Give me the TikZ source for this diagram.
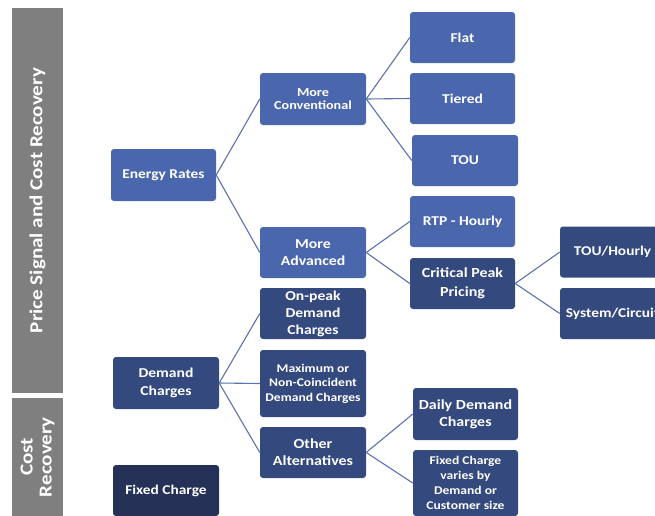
\documentclass[tikz,border=0pt]{standalone}
\usepackage{fontspec}
\setmainfont{Carlito}[FakeStretch=1.15]
\definecolor{lblue}{HTML}{4A67AD}
\definecolor{dblue}{HTML}{34497D}
\definecolor{navy}{HTML}{253156}
\definecolor{gbar}{HTML}{7F7F7F}
\definecolor{lnc}{HTML}{5A72B0}
\newcommand{\fsz}[2]{\bfseries\fontsize{#1}{#2}\selectfont}
\tikzset{
  box/.style={rounded corners=3pt, text=white, align=center, inner sep=1pt, minimum width=105pt, minimum height=51pt, font=\fsz{13.5}{17}},
  lbox/.style={box, fill=lblue},
  dbox/.style={box, fill=dblue},
  nbox/.style={box, fill=navy},
  gbox/.style={fill=gbar, text=white, align=center, inner sep=0pt},
  conn/.style={draw=lnc, line width=1.1pt}
}
\begin{document}
\begin{tikzpicture}[x=1pt,y=-1pt]
\useasboundingbox (0,0) rectangle (655,515);
\clip (0,0) rectangle (655,515);
% gray side bars
\node[gbox, minimum width=385pt, minimum height=51pt, rotate=90, font=\fsz{18.3}{20}] (g1) at (37.5,200.5) {Price Signal and Cost Recovery};
\node[gbox, minimum width=118pt, minimum height=51pt, rotate=90, font=\fsz{18.3}{19}] (g2) at (37.5,457) {Cost\\Recovery};
% level 1
\node[lbox, minimum height=52pt, font=\fsz{13.4}{17}] (er) at (163.5,175) {Energy Rates};
\node[dbox, minimum width=106pt, minimum height=52pt, font=\fsz{13.6}{18}] (dc) at (166,383) {Demand\\Charges};
\node[nbox, minimum width=106pt, font=\fsz{13.4}{17}] (fc) at (166,490.5) {Fixed Charge};
% level 2
\node[lbox, minimum width=106pt, minimum height=52pt, font=\fsz{12.3}{13.5}] (mc) at (313,99) {More\\Conventional};
\node[lbox, minimum width=106pt, font=\fsz{13.7}{17}] (ma) at (313,252.5) {More\\Advanced};
\node[dbox, minimum width=106pt, font=\fsz{13.6}{17}] (op) at (313,313.5) {On-peak\\Demand\\Charges};
\node[dbox, minimum width=106pt, minimum height=67pt, font=\fsz{11.8}{14.5}] (mx) at (313,383.5) {Maximum or\\Non-Coincident\\Demand Charges};
\node[dbox, minimum width=106pt, font=\fsz{13.9}{17}] (oa) at (313,452.5) {Other\\Alternatives};
% level 3
\node[lbox] (flat) at (462.5,37.5) {Flat};
\node[lbox] (tier) at (462.5,98.5) {Tiered};
\node[lbox, minimum width=106pt] (tou) at (465,160.5) {TOU};
\node[lbox] (rtp) at (462.5,221.5) {RTP - Hourly};
\node[dbox, font=\fsz{13.9}{18.5}] (cpp) at (462.5,283.5) {Critical Peak\\Pricing};
\node[dbox, minimum height=52pt, font=\fsz{13.9}{17}] (ddc) at (465.5,414) {Daily Demand\\Charges};
\node[dbox, minimum height=66pt, font=\fsz{11.8}{15}] (fcv) at (465.5,483) {Fixed Charge\\varies by\\Demand or\\Customer size};
% level 4
\node[dbox, font=\fsz{13.4}{17}] (touh) at (612.5,252) {TOU/Hourly};
\node[dbox, font=\fsz{13.4}{17}] (sys) at (612.5,313.5) {System/Circuit};
% connectors
\draw[conn] (er.east) -- (mc.west);
\draw[conn] (er.east) -- (ma.west);
\draw[conn] (mc.east) -- (flat.west);
\draw[conn] (mc.east) -- (tier.west);
\draw[conn] (mc.east) -- (tou.west);
\draw[conn] (ma.east) -- (rtp.west);
\draw[conn] (ma.east) -- (cpp.west);
\draw[conn] (cpp.east) -- (touh.west);
\draw[conn] (cpp.east) -- (sys.west);
\draw[conn] (dc.east) -- (op.west);
\draw[conn] (dc.east) -- (mx.west);
\draw[conn] (dc.east) -- (oa.west);
\draw[conn] (oa.east) -- (ddc.west);
\draw[conn] (oa.east) -- (fcv.west);
\end{tikzpicture}
\end{document}
